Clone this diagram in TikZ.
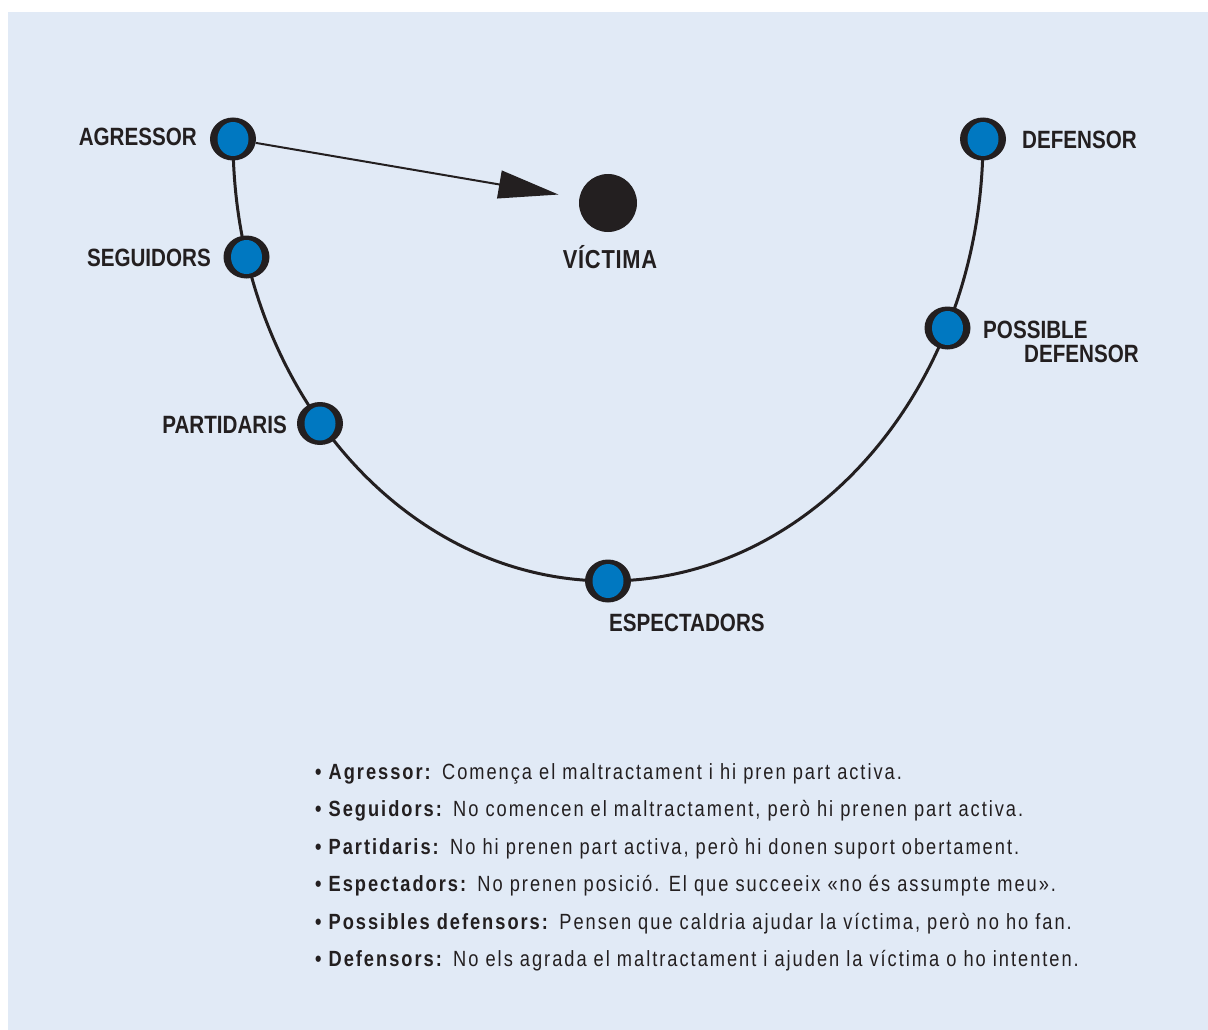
\documentclass[tikz,border=0pt]{standalone}
\usepackage{fontspec}
\usetikzlibrary{shapes.geometric,arrows.meta}
\setmainfont[FakeStretch=0.82]{Liberation Sans}
\newfontfamily\legfont[FakeStretch=0.83,LetterSpace=9]{Liberation Sans}
\newfontfamily\labfont[FakeStretch=0.825]{Liberation Sans Bold}
\newfontfamily\vicfont[FakeStretch=0.84,LetterSpace=3]{Liberation Sans Bold}
\definecolor{bgblue}{HTML}{E1EAF6}
\definecolor{dotblue}{HTML}{0078C1}
\definecolor{ink}{HTML}{231F20}
\tikzset{
  role/.style={ellipse, fill=ink, minimum width=46pt, minimum height=43pt, inner sep=0pt,
    path picture={\fill[dotblue] (path picture bounding box.center) ellipse [x radius=15.5pt, y radius=17pt];}},
  lab/.style={text=ink, inner sep=0pt, font=\labfont\fontsize{25}{30}\selectfont},
  legend/.style={text=ink, inner sep=0pt, anchor=base west, font=\legfont\fontsize{22}{26}\selectfont},
  curve/.style={draw=ink, line width=3pt},
}
\begin{document}
\begin{tikzpicture}[x=1pt,y=-1pt]
\useasboundingbox (0,0) rectangle (1208,1030);
\fill[white] (0,0) rectangle (1208,1030);
\fill[bgblue] (8,12) rectangle (1208,1030);

% semicircular path
\draw[curve] (233,139) arc[start angle=180, end angle=360, x radius=375pt, y radius=442pt];

% role nodes
\node[role] (agr) at (233,139) {};
\node[role] (seg) at (246.5,257) {};
\node[role] (par) at (320,423.5) {};
\node[role] (esp) at (608,581) {};
\node[role] (pos) at (947.5,328) {};
\node[role] (def) at (983,139) {};

% victim
\node[circle, fill=ink, minimum size=58pt, inner sep=0pt] (vic) at (608,203) {};
\draw[draw=ink, line width=2pt, -{Triangle[length=60pt,width=28pt]}, shorten >=21pt] (agr) -- (vic);

% labels
\node[lab, anchor=east] (lagr) at (197,137) {AGRESSOR};
\node[lab, anchor=east] (lseg) at (211,258) {SEGUIDORS};
\node[lab, anchor=east] (lpar) at (287,425) {PARTIDARIS};
\node[lab, anchor=west] (lesp) at (609,623) {ESPECTADORS};
\node[lab, anchor=west] (ldef) at (1022,140) {DEFENSOR};
\node[lab, anchor=north west, align=left, font=\labfont\fontsize{25}{24}\selectfont] (lpos) at (983,321) {POSSIBLE\\\hspace*{41pt}DEFENSOR};
\node[lab, font=\vicfont\fontsize{26}{30}\selectfont] (lvic) at (610,257) {VÍCTIMA};

% legend
\node[legend] (l1) at (315,779) {\textbf{• Agressor:} Comença el maltractament i hi pren part activa.};
\node[legend] (l2) at (315,816.5) {\textbf{• Seguidors:} No comencen el maltractament, però hi prenen part activa.};
\node[legend] (l3) at (315,854) {\textbf{• Partidaris:} No hi prenen part activa, però hi donen suport obertament.};
\node[legend] (l4) at (315,891.5) {\textbf{• Espectadors:} No prenen posició. El que succeeix «no és assumpte meu».};
\node[legend] (l5) at (315,929) {\textbf{• Possibles defensors:} Pensen que caldria ajudar la víctima, però no ho fan.};
\node[legend] (l6) at (315,966.5) {\textbf{• Defensors:} No els agrada el maltractament i ajuden la víctima o ho intenten.};
\end{tikzpicture}
\end{document}
